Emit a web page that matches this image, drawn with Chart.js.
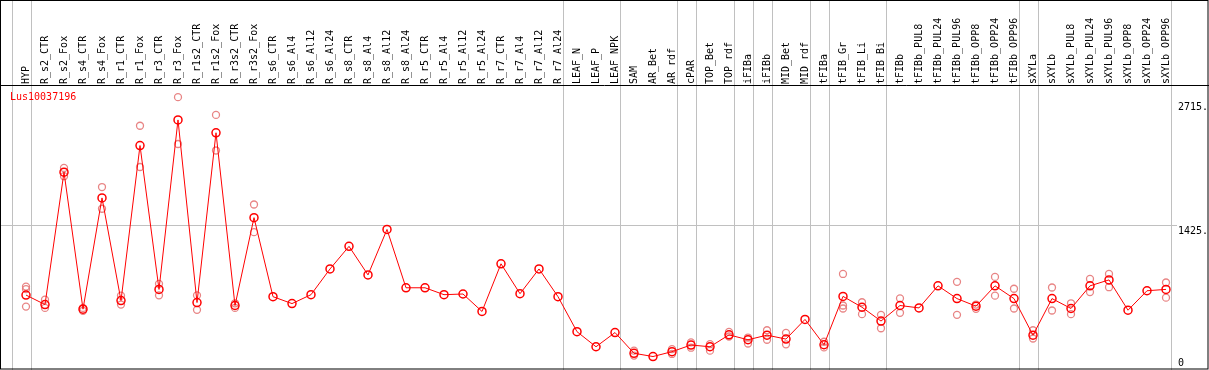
<!DOCTYPE html>
<html>
<head>
<meta charset="utf-8">
<script src="https://cdn.jsdelivr.net/npm/chart.js@4.4.1/dist/chart.umd.min.js"></script>
<style>
  html, body { margin: 0; padding: 0; background: #fff; overflow: hidden; }
  #wrap { width: 1209px; height: 370px; }
</style>
</head>
<body>
<div id="wrap"><canvas id="chart" width="1209" height="370"></canvas></div>
<script>
// gene expression profile — Lus10037196

const geneName = "Lus10037196";

const categories = [
  "HYP", "R_s2_CTR", "R_s2_Fox", "R_s4_CTR", "R_s4_Fox", "R_r1_CTR", "R_r1_Fox",
  "R_r3_CTR", "R_r3_Fox", "R_r1s2_CTR", "R_r1s2_Fox", "R_r3s2_CTR", "R_r3s2_Fox",
  "R_s6_CTR", "R_s6_Al4", "R_s6_Al12", "R_s6_Al24", "R_s8_CTR", "R_s8_Al4",
  "R_s8_Al12", "R_s8_Al24", "R_r5_CTR", "R_r5_Al4", "R_r5_Al12", "R_r5_Al24",
  "R_r7_CTR", "R_r7_Al4", "R_r7_Al12", "R_r7_Al24", "LEAF_N", "LEAF_P", "LEAF_NPK",
  "SAM", "AR_Bet", "AR_rdf", "cPAR", "TOP_Bet", "TOP_rdf", "iFIBa", "iFIBb",
  "MID_Bet", "MID_rdf", "tFIBa", "tFIB_Gr", "tFIB_Li", "tFIB_Bi", "tFIBb",
  "tFIBb_PUL8", "tFIBb_PUL24", "tFIBb_PUL96", "tFIBb_OPP8", "tFIBb_OPP24", "tFIBb_OPP96",
  "sXYLa", "sXYLb", "sXYLb_PUL8", "sXYLb_PUL24", "sXYLb_PUL96", "sXYLb_OPP8",
  "sXYLb_OPP24", "sXYLb_OPP96"
];

// mean expression per sample
const means = [
  694, 595, 1975, 547, 1707, 636, 2253, 753, 2520, 616, 2386, 585, 1501,
  677, 605, 698, 966, 1202, 904, 1378, 770, 770, 698, 705, 523, 1020, 708, 966, 677,
  312, 155, 303,
  87, 53, 104, 173, 155, 279, 228, 276, 235, 440, 176, 680, 567, 423,
  585, 560, 790, 657, 578, 790, 657,
  276, 657, 554, 790, 852, 536, 739, 753
];

// individual replicates (empty where they sit under the mean)
const replicates = [
  [782, 756, 574], [646, 560], [2019, 1933], [560, 530], [1820, 1594], [688, 595],
  [2459, 2029], [811, 691], [2757, 2269], [691, 540], [2572, 2201], [608, 560], [1638, 1350],
  [], [], [], [], [], [], [], [], [], [], [], [], [], [], [], [],
  [], [], [],
  [114, 63], [], [130, 80], [200, 145], [183, 114], [310, 262], [251, 189], [327, 228],
  [300, 180], [], [207, 148], [914, 585, 554], [619, 495], [488, 348],
  [660, 509], [], [], [832, 488], [595, 550], [883, 688], [760, 554],
  [327, 241], [773, 533], [608, 495], [862, 725], [914, 776], [], [], [825, 667]
];

// group boundaries: a grey rule is drawn just after each of these samples
const groupEnds = [0, 28, 31, 34, 35, 37, 38, 39, 41, 42, 45, 52, 53, 60];

const yTicks = [0, 1425, 2715];
const yMin = -30;
const yMax = 2884;

const RED = "#ff0000";
const PINK = "rgba(230, 120, 120, 0.9)";
const GREY = "#c0c0c0";
const FONT = "10px 'DejaVu Sans Mono', monospace";

const replicatePoints = [];
replicates.forEach((list, i) => {
  list.forEach((v) => replicatePoints.push({ x: categories[i], y: v }));
});

const decorPlugin = {
  id: "decor",
  beforeDatasetsDraw(chart) {
    const { ctx, scales: { x, y }, chartArea } = chart;
    ctx.save();
    ctx.strokeStyle = GREY;
    ctx.lineWidth = 1;
    // vertical group separators run through the header too
    const seps = [-0.76].concat(groupEnds.map((i) => i + 0.25));
    seps.forEach((v) => {
      const px = Math.round(x.getPixelForValue(v)) + 0.5;
      ctx.beginPath();
      ctx.moveTo(px, 0);
      ctx.lineTo(px, chart.height);
      ctx.stroke();
    });
    // horizontal rule at the middle tick
    const py = Math.round(y.getPixelForValue(1425)) + 0.5;
    ctx.beginPath();
    ctx.moveTo(1, py);
    ctx.lineTo(chartArea.right + 11, py);
    ctx.stroke();
    ctx.restore();
  },
  afterDraw(chart) {
    const { ctx, scales: { y }, chartArea } = chart;
    ctx.save();
    ctx.strokeStyle = "#000";
    ctx.lineWidth = 1;
    ctx.strokeRect(0.5, 0.5, chart.width - 1.5, chart.height - 1.5);
    ctx.beginPath();
    ctx.moveTo(0, Math.round(chartArea.top) + 0.5);
    ctx.lineTo(chart.width, Math.round(chartArea.top) + 0.5);
    ctx.stroke();

    ctx.font = FONT;
    ctx.textBaseline = "top";
    ctx.textAlign = "left";
    ctx.fillStyle = "#000";
    yTicks.forEach((v) => {
      const label = v === 0 ? "0" : v + ".";
      const ty = Math.min(y.getPixelForValue(v) + 1.5, chart.height - 12);
      ctx.fillText(label, chartArea.right + 12, ty);
    });

    ctx.fillStyle = RED;
    ctx.textBaseline = "middle";
    ctx.fillText(geneName, 10, 97);
    ctx.restore();
  },
};

new Chart(document.getElementById("chart"), {
  type: "line",
  data: {
    labels: categories,
    datasets: [
      {
        label: "mean",
        data: means,
        borderColor: RED,
        borderWidth: 1,
        pointRadius: 4,
        pointBorderWidth: 1.5,
        pointBorderColor: RED,
        pointBackgroundColor: "rgba(255,255,255,0)",
        tension: 0,
        order: 0,
      },
      {
        label: "replicates",
        data: replicatePoints,
        showLine: false,
        pointRadius: 3.5,
        pointBorderWidth: 1.3,
        pointBorderColor: PINK,
        pointBackgroundColor: "rgba(255,255,255,0)",
        order: 1,
      },
    ],
  },
  options: {
    responsive: false,
    animation: false,
    events: [],
    layout: { padding: { left: 26, right: 43, top: 0, bottom: 1 } },
    plugins: { legend: { display: false }, tooltip: { enabled: false } },
    scales: {
      x: {
        type: "category",
        position: "top",
        offset: false,
        grid: { display: false },
        border: { display: false },
        ticks: {
          autoSkip: false,
          minRotation: 90,
          maxRotation: 90,
          padding: -7,
          labelOffset: 12,
          color: "#000",
          font: { family: "'DejaVu Sans Mono', monospace", size: 10 },
        },
        afterFit: (scale) => { scale.height = 85; },
      },
      y: {
        display: false,
        min: yMin,
        max: yMax,
      },
    },
  },
  plugins: [decorPlugin],
});
</script>
</body>
</html>
